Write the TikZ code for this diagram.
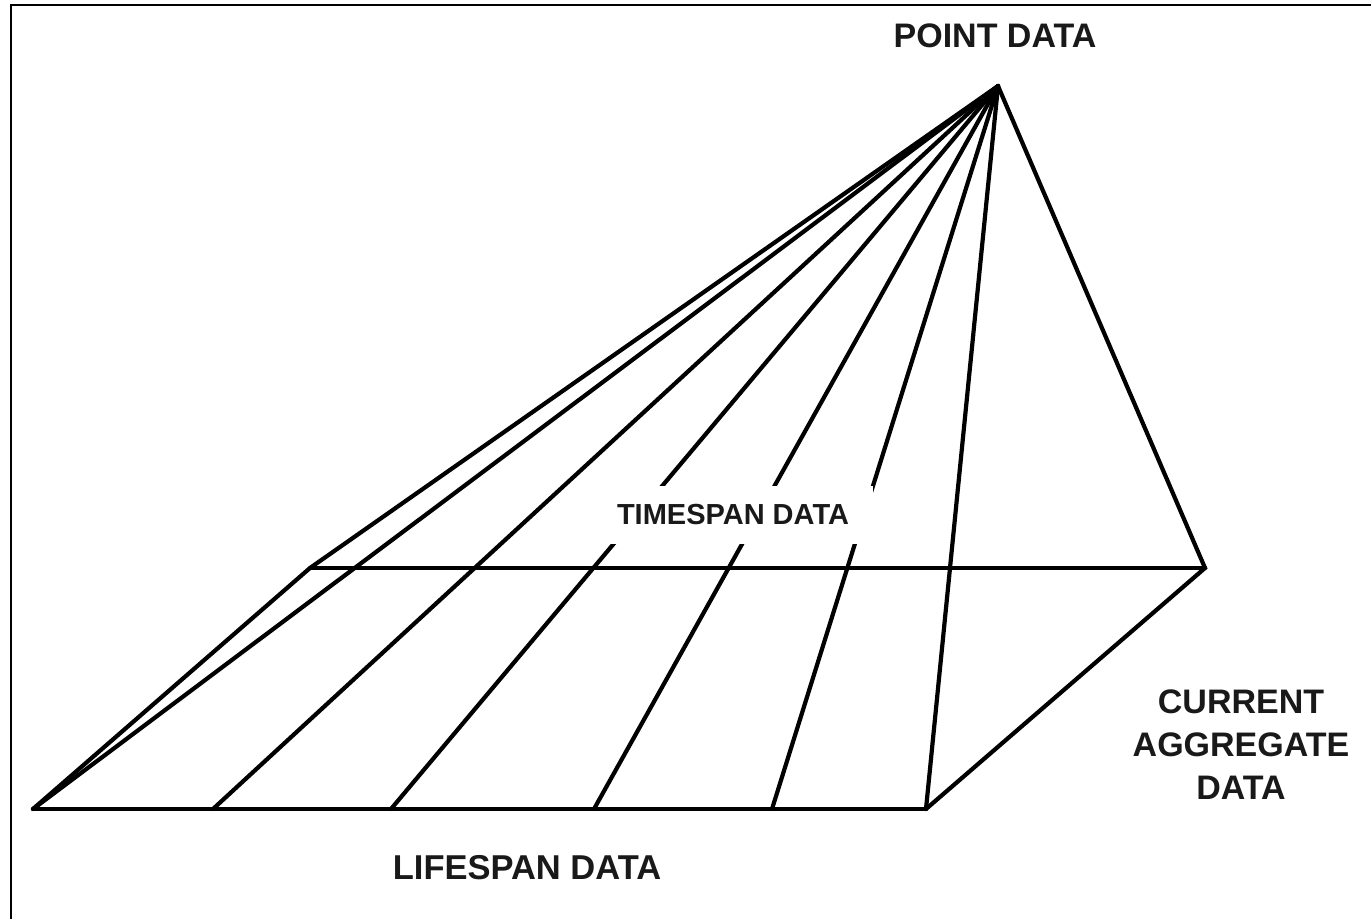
\documentclass[tikz,border=0pt]{standalone}
\usepackage{fontspec}
\setmainfont{Liberation Sans}
\begin{document}
\begin{tikzpicture}[x=1pt,y=-1pt,
  edge/.style={line width=4.2pt, line join=miter, line cap=round},
  frame/.style={line width=2pt},
  lbl/.style={font=\bfseries\fontsize{34}{43}\selectfont, text=black!90, inner sep=0pt}]
\useasboundingbox[fill=white] (0,0) rectangle (1371,919);
\draw[frame] (1371,5) -- (11,5) -- (11,919);
% points
\coordinate (A) at (998,86);
\coordinate (TL) at (310,568);
\coordinate (TR) at (1205,568);
\coordinate (BL) at (33,809);
\coordinate (BR) at (926,809);
\coordinate (b1) at (213,809);
\coordinate (b2) at (391,809);
\coordinate (b3) at (594,809);
\coordinate (b4) at (772,809);
% lines
\draw[edge] (A) -- (BL);
\draw[edge] (A) -- (TL) -- (BL);
\draw[edge] (A) -- (b1);
\draw[edge] (A) -- (b2);
\draw[edge] (A) -- (b3);
\draw[edge] (A) -- (b4);
\draw[edge] (A) -- (BR);
\draw[edge] (A) -- (TR) -- (BR);
\draw[edge] (TL) -- (TR);
\draw[edge] (BL) -- (BR);
% labels
\node[lbl, font=\bfseries\fontsize{34}{40}\selectfont, anchor=base] (point) at (995,47) {POINT DATA};
\node[lbl, font=\bfseries\fontsize{29}{34}\selectfont, fill=white, minimum width=280pt, minimum height=58pt] (timespan) at (733,514.5) {TIMESPAN DATA};
\node[lbl, font=\bfseries\fontsize{34.5}{43}\selectfont, anchor=base] (lifespan) at (527,879) {LIFESPAN DATA};
\node[lbl, align=center, anchor=center] (current) at (1241,745) {CURRENT\\AGGREGATE\\DATA};
\end{tikzpicture}
\end{document}
